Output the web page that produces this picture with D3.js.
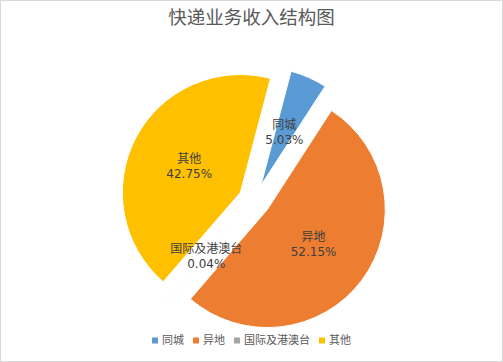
<!DOCTYPE html>
<html>
<head>
<meta charset="utf-8">
<script src="https://cdn.jsdelivr.net/npm/d3@7"></script>
<style>
	body { margin: 0; background: #fff; }
	text { font-family: "DejaVu Sans", "Noto Sans CJK SC", sans-serif; }
</style>
</head>
<body>
<div id="chart-area"></div>
<script>
// chart data
let categories = ["同城", "异地", "国际及港澳台", "其他"];
let values = [5.03, 52.15, 0.04, 42.75];
let colors = ["#5B9BD5", "#ED7D31", "#A5A5A5", "#FFC000"];
let title = "快递业务收入结构图";

let width = 503, height = 362;
let cx = 254.5, cy = 200;
let radius = 118;
let explode = 16;
let firstAngle = 14.8 * Math.PI / 180;

let svg = d3.select("#chart-area").append("svg")
	.attr("width", width)
	.attr("height", height);

// chart area border
svg.append("rect")
	.attr("x", 0.5).attr("y", 0.5)
	.attr("width", width - 1).attr("height", height - 1)
	.attr("fill", "#fff")
	.attr("stroke", "#d9d9d9");

svg.append("text")
	.attr("x", width / 2)
	.attr("y", 24)
	.attr("text-anchor", "middle")
	.attr("font-size", "18.5px")
	.attr("fill", "#595959")
	.text(title);

let data = categories.map((c, i) => ({name: c, value: values[i], color: colors[i]}));

let pie = d3.pie()
	.sort(null)
	.value(d => d.value)
	.startAngle(firstAngle)
	.endAngle(firstAngle + 2 * Math.PI);

let arc = d3.arc().innerRadius(0).outerRadius(radius);
let labelArc = d3.arc().innerRadius(radius * 0.49).outerRadius(radius * 0.49);

let arcs = pie(data);

// shift each slice outward along its middle angle
function offset(d) {
	let a = (d.startAngle + d.endAngle) / 2;
	return [cx + explode * Math.sin(a), cy - explode * Math.cos(a)];
}

svg.selectAll(".slice")
	.data(arcs)
	.enter()
	.append("path")
	.attr("class", "slice")
	.attr("transform", d => "translate(" + offset(d) + ")")
	.attr("d", arc)
	.attr("fill", d => d.data.color)
	.attr("stroke", "#fff")
	.attr("stroke-width", 1);

// labels drawn after all slices so none gets covered
let labels = svg.selectAll(".label")
	.data(arcs)
	.enter()
	.append("text")
	.attr("class", "label")
	.attr("transform", d => {
		let o = offset(d), c = labelArc.centroid(d);
		return "translate(" + (o[0] + c[0]) + "," + (o[1] + c[1]) + ")";
	})
	.attr("text-anchor", "middle")
	.attr("font-size", "12px")
	.attr("fill", "#404040");

labels.append("tspan")
	.attr("x", 0)
	.attr("y", -3)
	.text(d => d.data.name);

labels.append("tspan")
	.attr("x", 0)
	.attr("y", 12)
	.text(d => d3.format(".2f")(d.data.value) + "%");

// legend
let legend = svg.append("g").attr("class", "legend");
let items = legend.selectAll(".item")
	.data(data)
	.enter()
	.append("g")
	.attr("class", "item");

items.append("rect")
	.attr("width", 6).attr("height", 6)
	.attr("y", -6.5)
	.attr("fill", d => d.color);

items.append("text")
	.attr("x", 10)
	.attr("y", 0)
	.attr("font-size", "11px")
	.attr("fill", "#595959")
	.text(d => d.name);

let xpos = 0;
let positions = [];
items.each(function() {
	positions.push(xpos);
	let w = d3.select(this).select("text").node().getComputedTextLength();
	xpos += 10 + w + 9;
});
let total = xpos - 9;
items.attr("transform", (d, i) => "translate(" + positions[i] + ",0)");
legend.attr("transform", "translate(" + ((width - total) / 2) + ",344)");
</script>
</body>
</html>
